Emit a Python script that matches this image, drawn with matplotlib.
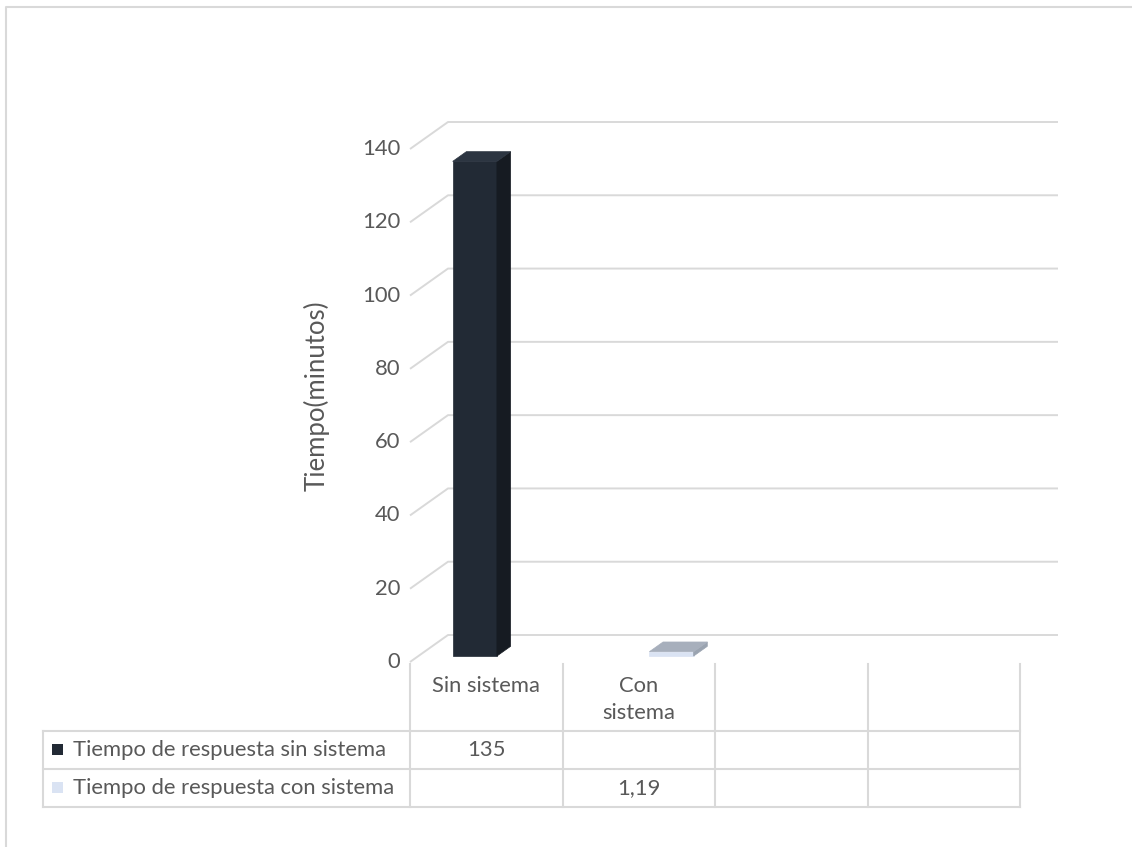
import numpy as np
import matplotlib
matplotlib.use("Agg")
import matplotlib.pyplot as plt
from matplotlib.patches import Polygon, Rectangle

# data
categories = ["Sin sistema", "Con\nsistema", "", ""]
series_names = ["Tiempo de respuesta sin sistema", "Tiempo de respuesta con sistema"]
sin_sistema = [135, np.nan, np.nan, np.nan]
con_sistema = [np.nan, 1.19, np.nan, np.nan]
table_text = [["135", "", "", ""], ["", "1,19", "", ""]]
y_ticks = [0, 20, 40, 60, 80, 100, 120, 140]

plt.rcParams["font.family"] = ["Lato", "DejaVu Sans"]
TXT = "#595959"
GRID = "#d9d9d9"
FS = 15.8

W, H = 1132, 847
fig = plt.figure(figsize=(W / 100, H / 100), dpi=100)

# pixel layout of the plot area (front plane)
x0, x1 = 410, 1020
y0, y1 = 662, 149
ax = fig.add_axes([x0 / W, 1 - y0 / H, (x1 - x0) / W, (y0 - y1) / H])
ax.set_xlim(0, len(categories))
ax.set_ylim(0, 140)
ax.axis("off")

# depth of the pseudo 3d floor in data units
px_x = (x1 - x0) / len(categories)
px_y = (y0 - y1) / 140
DX = 38 / px_x
DY = 27 / px_y


def P(x, v, d):
    return (x + d * DX, v + d * DY)


# walls / gridlines
for v in y_ticks:
    a, b = P(0, v, 0), P(0, v, 1)
    c = P(len(categories), v, 1)
    ax.plot([a[0], b[0], c[0]], [a[1], b[1], c[1]], color=GRID, lw=1.4,
            clip_on=False, zorder=1, solid_capstyle="butt")
    ax.text(-0.065, v, str(v), ha="right", va="center", fontsize=FS,
            color=TXT, clip_on=False)

# bars
bw = 0.29
d0, d1 = 0.22, 0.58
styles = [("#222a35", "#161b22", "#2c3541"), ("#dae3f3", "#9aa3b0", "#a7afbc")]
for s, vals in enumerate([sin_sistema, con_sistema]):
    front, side, top = styles[s]
    for c, v in enumerate(vals):
        if np.isnan(v):
            continue
        xl = c + 0.5 - bw + s * bw + 0.015
        xr = xl + bw
        faces = [
            ([P(xl, 0, d0), P(xr, 0, d0), P(xr, v, d0), P(xl, v, d0)], front),
            ([P(xr, 0, d0), P(xr, 0, d1), P(xr, v, d1), P(xr, v, d0)], side),
            ([P(xl, v, d0), P(xr, v, d0), P(xr, v, d1), P(xl, v, d1)], top),
        ]
        for pts, col in faces:
            ax.add_patch(Polygon(pts, closed=True, facecolor=col,
                                 edgecolor=col, lw=0.5, zorder=3, clip_on=False))

fig.text(317 / W, 1 - 396 / H, "Tiempo(minutos)", rotation=90, ha="center",
         va="center", fontsize=18.5, color=TXT)

# overlay in pixels for the data table and the chart border
ov = fig.add_axes([0, 0, 1, 1], zorder=-1)
ov.set_xlim(0, W)
ov.set_ylim(H, 0)
ov.axis("off")

ov.plot([6, 6, W + 5], [H + 5, 7, 7], color=GRID, lw=1.5)

cols = [x0 + i * px_x for i in range(len(categories) + 1)]
t_top, r1, r2, r3 = 664, 731, 769, 807
leg_x = 43
for cx in cols:
    ov.plot([cx, cx], [t_top, r3], color=GRID, lw=1.5)
ov.plot([leg_x, leg_x], [r1, r3], color=GRID, lw=1.5)
for ry in [r1, r2, r3]:
    ov.plot([leg_x, cols[-1]], [ry, ry], color=GRID, lw=1.5)

for i, lab in enumerate(categories):
    ov.text((cols[i] + cols[i + 1]) / 2, 676, lab, ha="center", va="top",
            fontsize=FS, color=TXT, linespacing=1.45)

rows = [(r1 + r2) / 2, (r2 + r3) / 2]
for r, name in enumerate(series_names):
    ov.add_patch(Rectangle((52, rows[r] - 6), 11, 11, facecolor=styles[r][0],
                           edgecolor="none"))
    ov.text(73, rows[r], name, ha="left", va="center", fontsize=FS, color=TXT)
    for i, t in enumerate(table_text[r]):
        ov.text((cols[i] + cols[i + 1]) / 2, rows[r], t, ha="center",
                va="center", fontsize=FS, color=TXT)

fig.savefig("out.png", dpi=100)
